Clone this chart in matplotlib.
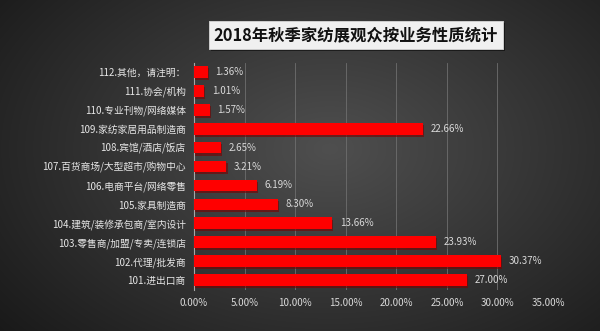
import numpy as np
import matplotlib.pyplot as plt
import matplotlib.patheffects as pe
from matplotlib.patches import FancyBboxPatch

plt.rcParams['font.family'] = ['Noto Sans CJK SC', 'DejaVu Sans']

# categories from bottom to top
categories = ['101.进出口商', '102.代理/批发商', '103.零售商/加盟/专卖/连锁店',
              '104.建筑/装修承包商/室内设计', '105.家具制造商', '106.电商平台/网络零售',
              '107.百货商场/大型超市/购物中心', '108.宾馆/酒店/饭店', '109.家纺家居用品制造商',
              '110.专业刊物/网络媒体', '111.协会/机构', '112.其他，请注明：']
values = [27.00, 30.37, 23.93, 13.66, 8.30, 6.19, 3.21, 2.65, 22.66, 1.57, 1.01, 1.36]
xticks = [0, 5, 10, 15, 20, 25, 30, 35]
title = '2018年秋季家纺展观众按业务性质统计'

fig = plt.figure(figsize=(6, 3.31), dpi=100)

# dark vignette background
bg = fig.add_axes([0, 0, 1, 1])
yy, xx = np.mgrid[0:1:331j, 0:1:600j]
r = np.sqrt(((xx - 0.55) / 0.75) ** 2 + ((yy - 0.45) / 0.9) ** 2)
shade = np.clip(0.31 - 0.22 * r, 0.09, 0.31)
bg.imshow(np.dstack([shade] * 3), extent=(0, 1, 0, 1), aspect='auto', origin='upper')
bg.set_axis_off()

# title box with shadow
box = FancyBboxPatch((209 / 600, 1 - 49 / 331), 294 / 600, 28 / 331,
                     boxstyle='square,pad=0', transform=fig.transFigure,
                     facecolor='#f0f0f0', edgecolor='#c8c8c8', linewidth=0.5,
                     path_effects=[pe.withSimplePatchShadow(offset=(1.5, -1.5), shadow_rgbFace='black', alpha=0.5),
                                   pe.Normal()])
fig.add_artist(box)
fig.text(356 / 600, 1 - 35.5 / 331, title, ha='center', va='center',
         fontsize=11.8, fontweight='bold', color='#111111')

ax = fig.add_axes([194 / 600, 1 - 289.5 / 331, 354 / 600, 227 / 331])
ax.patch.set_alpha(0)
y = np.arange(len(categories))
bars = ax.barh(y, values, height=0.62, color='#ff0000', zorder=3)
for b in bars:
    b.set_path_effects([pe.withSimplePatchShadow(offset=(0.8, -1.5), shadow_rgbFace='#7a0000', alpha=0.6),
                        pe.Normal()])
for yi, v in zip(y, values):
    ax.text(v + 0.75, yi, f'{v:.2f}%', va='center', ha='left', fontsize=7, color='#d9d9d9')

ax.set_xlim(0, 35)
ax.set_ylim(-0.5, len(categories) - 0.5)
ax.set_xticks(xticks)
ax.set_xticklabels([f'{t:.2f}%' for t in xticks], fontsize=7, color='#d9d9d9')
ax.set_yticks(y)
ax.set_yticklabels(categories, fontsize=7, color='#e6e6e6')
ax.tick_params(length=0, pad=6)
ax.grid(axis='x', color='#6e6e6e', linewidth=0.6, zorder=0)
for s in ['top', 'right', 'bottom']:
    ax.spines[s].set_visible(False)
ax.spines['left'].set_color('#a6a6a6')
ax.spines['left'].set_linewidth(0.8)

fig.savefig('out.png', dpi=100)
